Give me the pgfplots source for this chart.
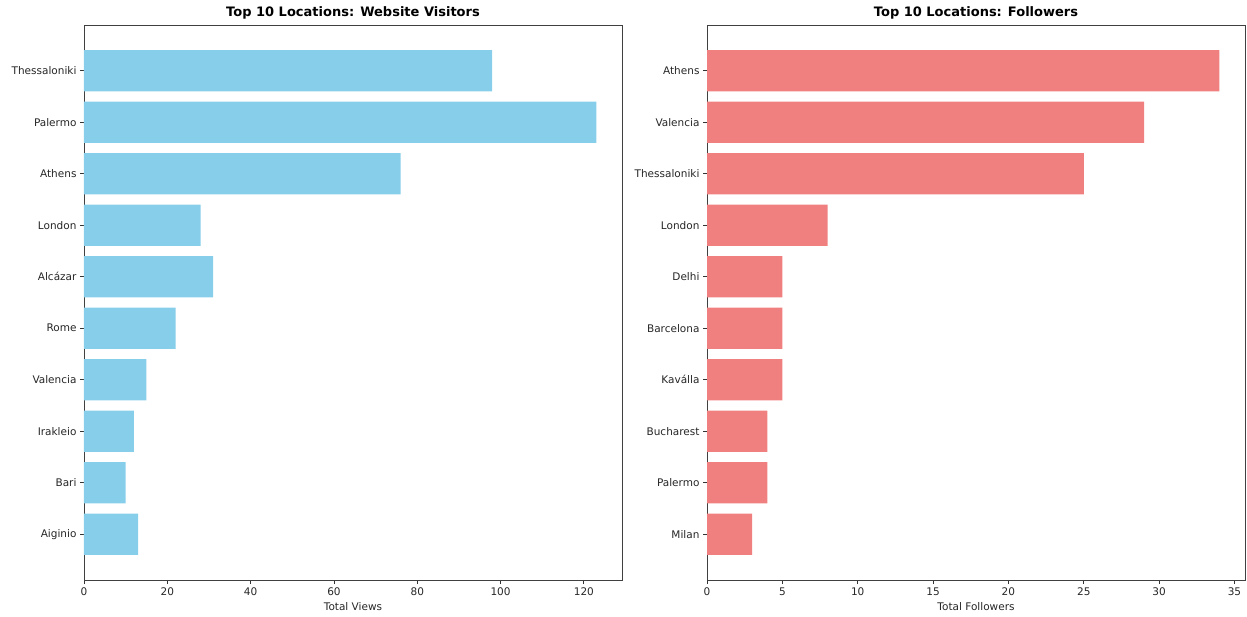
\documentclass[border=0pt]{standalone}
\usepackage{pgfplots}
\pgfplotsset{compat=1.18}
\usepackage{fontspec}
\setmainfont{DejaVu Sans}
\definecolor{skyblue}{HTML}{87CEEB}
\definecolor{lightcoral}{HTML}{F08080}
\pgfplotsset{
  mybar/.style={
    scale only axis, width=538pt, height=555pt,
    xbar, bar width=0.8,
    y dir=reverse, ymin=-0.89, ymax=9.89,
    ytick={0,...,9},
    xmin=0,
    tick align=outside, xtick pos=bottom, ytick pos=left,
    major tick length=4pt,
    axis line style={black!75, line width=0.9pt},
    every tick/.style={black!80, line width=0.8pt},
    tick label style={font=\fontsize{10.5}{12}\selectfont, text=black!85},
    label style={font=\fontsize{10.5}{12}\selectfont, text=black!85},
    title style={font=\fontsize{13}{15}\selectfont\bfseries, yshift=-4pt},
    /pgf/number format/assume math mode=true,
    xlabel style={yshift=0pt},
    clip=false,
  }
}
\begin{document}
\begin{tikzpicture}
\useasboundingbox (0pt,0pt) rectangle (1247pt,617pt);
\begin{axis}[mybar, at={(84pt,37pt)}, anchor=south west,
  xmax=129.15, xtick={0,20,...,120},
  yticklabels={Thessaloniki,Palermo,Athens,London,Alcázar,Rome,Valencia,Irakleio,Bari,Aiginio},
  xlabel={Total Views},
  title={Top 10 Locations: Website Visitors}]
\addplot[fill=skyblue, draw=none] coordinates {
(98,0) (123,1) (76,2) (28,3) (31,4) (22,5) (15,6) (12,7) (10,8) (13,9)};
\end{axis}
\begin{axis}[mybar, at={(707pt,37pt)}, anchor=south west,
  xmax=35.7, xtick={0,5,...,35},
  yticklabels={Athens,Valencia,Thessaloniki,London,Delhi,Barcelona,Kaválla,Bucharest,Palermo,Milan},
  xlabel={Total Followers},
  title={Top 10 Locations: Followers}]
\addplot[fill=lightcoral, draw=none] coordinates {
(34,0) (29,1) (25,2) (8,3) (5,4) (5,5) (5,6) (4,7) (4,8) (3,9)};
\end{axis}
\end{tikzpicture}
\end{document}
